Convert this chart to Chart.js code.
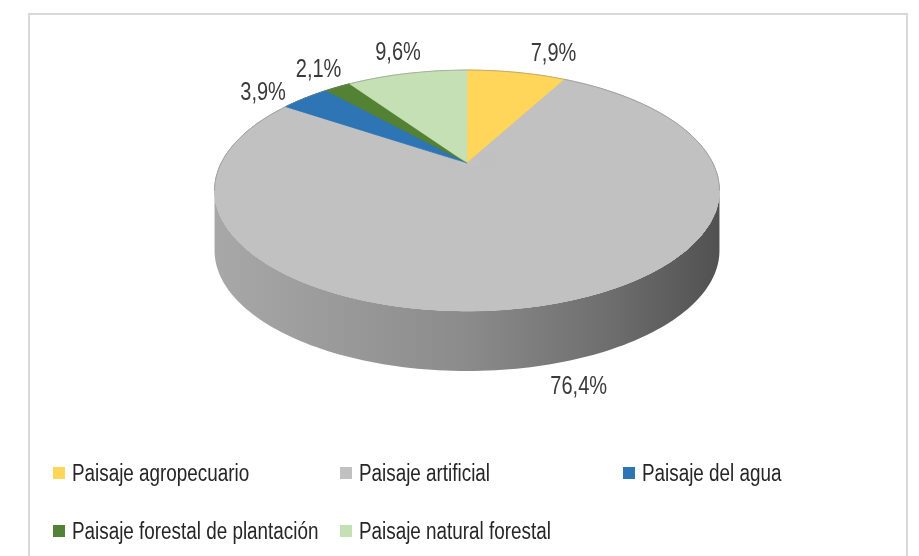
<!DOCTYPE html>
<html lang="es">
<head>
<meta charset="utf-8">
<title>Paisajes</title>
<script src="https://cdn.jsdelivr.net/npm/chart.js@4.4.1/dist/chart.umd.min.js"></script>
<style>
  html, body { margin: 0; padding: 0; background: #fff; }
  body { width: 919px; height: 556px; position: relative; overflow: hidden; }
  #marco {
    position: absolute; left: 28px; top: 13px; width: 880px; height: 600px;
    border: 2px solid #d9d9d9; box-sizing: border-box;
  }
  #grafico { position: absolute; left: 0; top: 0; }
  #leyenda {
    position: absolute; left: 53px; top: 459px;
    display: grid; grid-template-columns: 287px 283px auto; row-gap: 30px;
    font-family: "Liberation Sans", Arial, sans-serif;
    font-size: 23px; color: #262626;
  }
  .item { display: flex; align-items: center; height: 28px; white-space: nowrap; width: 0; overflow: visible; }
  .caja { width: 12px; height: 12px; margin-right: 7px; flex: none; }
  /* texto estrecho, como una fuente condensada */
  .texto { display: inline-block; transform: scaleX(0.82); transform-origin: 0 50%; }
</style>
</head>
<body>
<div id="marco"></div>
<canvas id="grafico" width="919" height="556"></canvas>
<div id="leyenda"></div>

<script>
// Datos: distribución de la superficie por tipo de paisaje (%)
const categorias = [
  'Paisaje agropecuario',
  'Paisaje artificial',
  'Paisaje del agua',
  'Paisaje forestal de plantación',
  'Paisaje natural forestal'
];
const porcentajes = [7.9, 76.4, 3.9, 2.1, 9.6];
const colores = ['#FFD55A', '#C1C1C1', '#2E75B6', '#548235', '#C5E0B4'];

// desplazamiento de cada etiqueta respecto al borde de su porción
const ajusteEtiqueta = [[37, -18], [36, 22], [-42, -5], [-19, -17], [-9, -20]];

// Geometría de la vista en perspectiva (vértice, semiejes, fuga y grosor)
const VERTICE = { x: 467, y: 163 };
const EJE_X = 245.8, EJE_Y = 114.2, FUGA = 0.2282, GROSOR = 60;

const formato = v => v.toFixed(1).replace('.', ',') + '%';

// punto del borde superior para un ángulo del círculo original
function proyectar(t) {
  const w = 1 - FUGA * Math.sin(t);
  return { x: VERTICE.x + EJE_X * Math.cos(t) / w, y: VERTICE.y + EJE_Y * Math.sin(t) / w };
}

function tono(hex, f) {
  const n = parseInt(hex.slice(1), 16);
  const r = Math.round(((n >> 16) & 255) * f), g = Math.round(((n >> 8) & 255) * f), b = Math.round((n & 255) * f);
  return `rgb(${r},${g},${b})`;
}

// pared lateral: sólo la parte delantera es visible
function dibujarLateral(ctx, arcos) {
  const t0 = Math.asin(FUGA), t1 = Math.PI - t0;
  arcos.forEach((arc, i) => {
    const a = Math.max(arc.startAngle, t0), b = Math.min(arc.endAngle, t1);
    if (b <= a) return;
    const pasos = 120;
    ctx.save();
    ctx.beginPath();
    for (let s = 0; s <= pasos; s++) {
      const p = proyectar(a + (b - a) * s / pasos);
      if (s === 0) ctx.moveTo(p.x, p.y); else ctx.lineTo(p.x, p.y);
    }
    for (let s = pasos; s >= 0; s--) {
      const p = proyectar(a + (b - a) * s / pasos);
      ctx.lineTo(p.x, p.y + GROSOR);
    }
    ctx.closePath();
    const g = ctx.createLinearGradient(VERTICE.x - EJE_X * 1.03, 0, VERTICE.x + EJE_X * 1.03, 0);
    g.addColorStop(0, tono(colores[i], 0.87));
    g.addColorStop(0.5, tono(colores[i], 0.72));
    g.addColorStop(0.78, tono(colores[i], 0.57));
    g.addColorStop(1, tono(colores[i], 0.42));
    ctx.fillStyle = g;
    ctx.fill();
    ctx.restore();
  });
}

// transformación afín que lleva el sector [a, b] del círculo a la perspectiva
function afinSector(c, r, a, b) {
  const p1 = proyectar(a), p2 = proyectar(b);
  const e1x = r * Math.cos(a), e1y = r * Math.sin(a);
  const e2x = r * Math.cos(b), e2y = r * Math.sin(b);
  const f1x = p1.x - VERTICE.x, f1y = p1.y - VERTICE.y;
  const f2x = p2.x - VERTICE.x, f2y = p2.y - VERTICE.y;
  const det = e1x * e2y - e2x * e1y;
  const l11 = (f1x * e2y - f2x * e1y) / det;
  const l12 = (f2x * e1x - f1x * e2x) / det;
  const l21 = (f1y * e2y - f2y * e1y) / det;
  const l22 = (f2y * e1x - f1y * e2x) / det;
  return [l11, l21, l12, l22, VERTICE.x - l11 * c.x - l12 * c.y, VERTICE.y - l21 * c.x - l22 * c.y];
}

function recortarCuña(ctx, a, b) {
  const q1 = proyectar(a), q2 = proyectar(b);
  ctx.beginPath();
  ctx.moveTo(VERTICE.x, VERTICE.y);
  ctx.lineTo(VERTICE.x + 4 * (q1.x - VERTICE.x), VERTICE.y + 4 * (q1.y - VERTICE.y));
  ctx.lineTo(VERTICE.x + 4 * (q2.x - VERTICE.x), VERTICE.y + 4 * (q2.y - VERTICE.y));
  ctx.closePath();
  ctx.clip();
}

const tarta3D = {
  id: 'tarta3D',
  beforeDatasetDraw(chart, args) {
    const ctx = chart.ctx;
    const arcos = args.meta.data;
    const c = { x: arcos[0].x, y: arcos[0].y };
    const r = arcos[0].outerRadius;

    dibujarLateral(ctx, arcos);

    // cara superior en sectores estrechos; la segunda pasada va desfasada
    // medio sector para tapar las juntas de la primera
    const N = 90, paso = 2 * Math.PI / N, d = 1.2 * Math.PI / 180;
    [0, 0.5].forEach(desfase => {
      for (let k = 0; k < N; k++) {
        const a = -Math.PI / 2 + (k + desfase) * paso, b = a + paso;
        ctx.save();
        recortarCuña(ctx, a - d, b + d);
        ctx.transform(...afinSector(c, r, a, b));
        arcos.forEach(arc => arc.draw(ctx, chart.chartArea));
        ctx.restore();
      }
    });

    // línea fina en el borde trasero
    const t0 = Math.asin(FUGA);
    ctx.save();
    ctx.beginPath();
    for (let s = 0; s <= 200; s++) {
      const p = proyectar(Math.PI - t0 + (Math.PI + 2 * t0) * s / 200);
      if (s === 0) ctx.moveTo(p.x, p.y); else ctx.lineTo(p.x, p.y);
    }
    ctx.strokeStyle = 'rgba(130,130,130,0.5)';
    ctx.lineWidth = 1;
    ctx.stroke();
    ctx.restore();
    return false;
  },
  afterDatasetsDraw(chart) {
    const ctx = chart.ctx;
    const arcos = chart.getDatasetMeta(0).data;
    arcos.forEach((arc, i) => {
      const m = (arc.startAngle + arc.endAngle) / 2;
      const p = proyectar(m);
      const delante = Math.sin(m) > FUGA ? GROSOR : 0;
      ctx.save();
      ctx.translate(p.x + ajusteEtiqueta[i][0], p.y + delante + ajusteEtiqueta[i][1]);
      ctx.scale(0.8, 1);
      ctx.font = '25px "Liberation Sans", Arial, sans-serif';
      ctx.fillStyle = '#3a3a3a';
      ctx.textAlign = 'center';
      ctx.textBaseline = 'middle';
      ctx.fillText(formato(porcentajes[i]), 0, 0);
      ctx.restore();
    });
  }
};

new Chart(document.getElementById('grafico'), {
  type: 'pie',
  data: {
    labels: categorias,
    datasets: [{
      data: porcentajes,
      backgroundColor: colores,
      borderColor: colores,
      borderWidth: 1,
      clip: false
    }]
  },
  options: {
    responsive: false,
    animation: false,
    events: [],
    plugins: { legend: { display: false }, tooltip: { enabled: false } }
  },
  plugins: [tarta3D]
});

// leyenda
const leyenda = document.getElementById('leyenda');
categorias.forEach((nombre, i) => {
  const item = document.createElement('div');
  item.className = 'item';
  item.innerHTML = `<span class="caja" style="background:${colores[i]}"></span><span class="texto">${nombre}</span>`;
  leyenda.appendChild(item);
});
</script>
</body>
</html>
